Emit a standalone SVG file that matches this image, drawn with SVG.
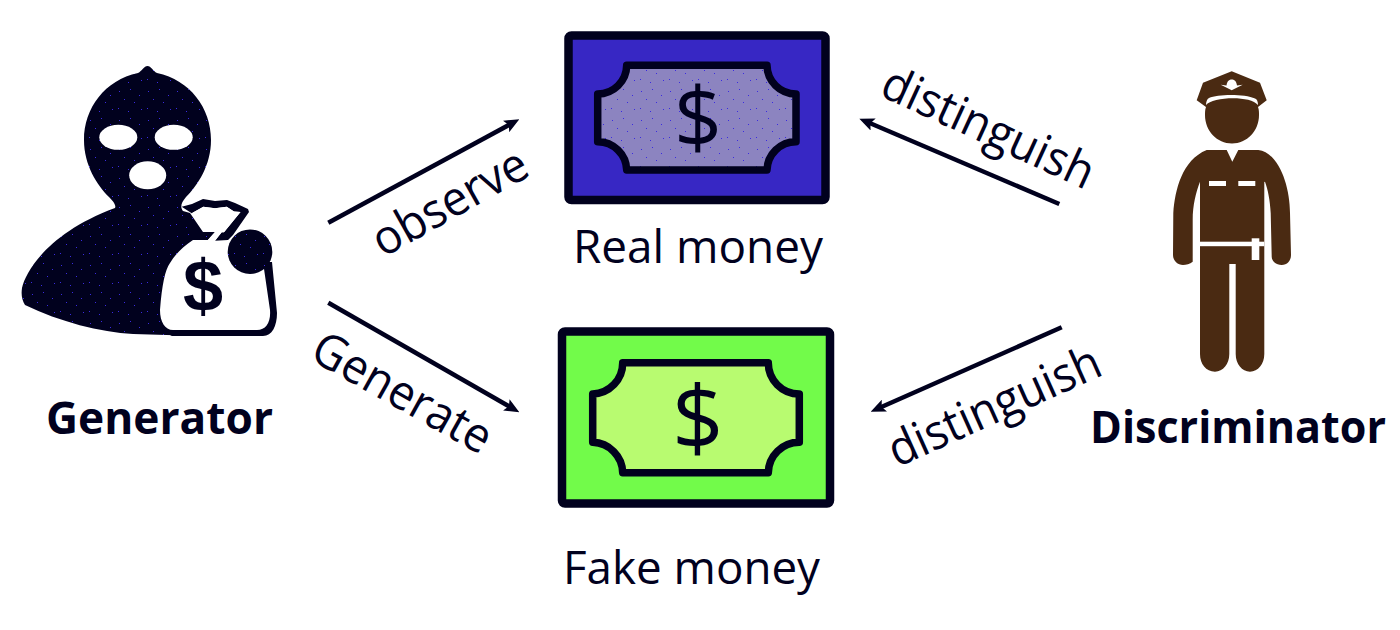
<svg xmlns="http://www.w3.org/2000/svg" width="1400" height="630" viewBox="0 0 1400 630">
<style>
.t{font-family:"Open Sans","Liberation Sans",sans-serif;font-size:46.5px;fill:#01011e}
.b{font-weight:700;font-size:44px}
.l{font-size:48px}
.dk{fill:#01011e}
.w{fill:#fff}
.br{fill:#4a2a12}
.ln{stroke:#01011e;stroke-width:4.5;fill:none;marker-end:url(#ah)}
.note{stroke:#01011e;stroke-width:7.5;stroke-linejoin:round}
.frame{stroke:#01011e;stroke-width:8.5;stroke-linejoin:round}
.dl{font-family:"Liberation Sans",sans-serif;fill:#01011e;text-anchor:middle}
.ds{font-family:"Open Sans",sans-serif;font-weight:400;fill:#01011e;text-anchor:middle}
</style>
<defs>
<marker id="ah" markerUnits="userSpaceOnUse" markerWidth="15" markerHeight="13" viewBox="0 0 15 13" refX="7" refY="6.5" orient="auto"><path d="M0 0L15 6.5L0 13L3 6.5Z" fill="#01011e"/></marker>
<pattern id="sd" width="29" height="29" patternUnits="userSpaceOnUse"><rect width="29" height="29" fill="#01011e"/><g fill="#3a2be0"><rect x="3" y="4" width="1" height="1"/><rect x="14" y="2" width="1" height="1"/><rect x="23" y="8" width="1" height="1"/><rect x="8" y="12" width="1" height="1"/><rect x="18" y="15" width="1" height="1"/><rect x="2" y="21" width="1" height="1"/><rect x="12" y="24" width="1" height="1"/><rect x="25" y="22" width="1" height="1"/></g></pattern>
<pattern id="sp" width="29" height="29" patternUnits="userSpaceOnUse"><rect width="29" height="29" fill="#8c84c0"/><g fill="#3a2be0"><rect x="3" y="4" width="1" height="1"/><rect x="14" y="2" width="1" height="1"/><rect x="23" y="8" width="1" height="1"/><rect x="8" y="12" width="1" height="1"/><rect x="18" y="15" width="1" height="1"/><rect x="2" y="21" width="1" height="1"/><rect x="12" y="24" width="1" height="1"/><rect x="25" y="22" width="1" height="1"/></g></pattern>
</defs>
<rect width="1400" height="630" fill="#fff"/>
<g id="generator">
<path fill="url(#sd)" d="M147.5 66C151 66 153 71 157 73C190 80 211 108 211 140C211 165 198 185 186 197C181 203 180 207 183 211L190 213L203 232L215 232L207 241L200 336L133 334C100 332 60 322 25 305C22 300 21 295 22 288C26 270 50 232 115 208C116 206 115 203 109 197C97 185 84 165 84 140C84 108 105 80 138 73C142 71 144 66 147.5 66Z"/>
<ellipse class="w" cx="118.3" cy="137.3" rx="19" ry="12.5"/>
<ellipse class="w" cx="173.7" cy="137.3" rx="19" ry="12.5"/>
<ellipse class="w" cx="147.7" cy="175.3" rx="18.5" ry="14"/>
<path class="dk" d="M170 336H263C272 336 277 326 277 313L272 262L262 262L200 320Z"/>
<path class="w" d="M207 240L228 240L263 262L270 310C271 322 266 330 257 330H173C165 330 160 322 160 310C162 285 165 270 170 263C176 253 184 246 193 240Z"/>
<path class="dk" d="M181.700 206.700L192 204L203 199L215 201L227 200L235 203L248 209L249 212L233 235L228 240L215 240.700L221.700 232.300L224 232.300L240.500 212L234 211.500L226.700 206.700L215 208.300L203.300 206.700L191.700 213.300Z"/>
<path class="w" d="M191.700 213.300L203.300 206.700L215 208.300L226.700 206.700L234 211.500L240.500 212L224 232.300L221.700 232.300L215 240.700L207 241L215 232L203 231Z"/>
<circle cx="250" cy="251.700" r="22.300" fill="url(#sd)"/>
<text class="dl" x="203" y="311" font-size="72" font-weight="700">$</text>
<text class="t b" x="46" y="434" textLength="227" lengthAdjust="spacingAndGlyphs">Generator</text>
</g>
<g id="real-money">
<rect class="frame" x="568.500" y="35.500" width="257" height="164.500" rx="3" fill="#3727c4"/>
<path class="note" fill="url(#sp)" d="M626.700 65.300H767A29 29 0 0 0 796 94V141.700A29 29 0 0 0 767 170H626.700A29 29 0 0 0 597.700 141.700V94A29 29 0 0 0 626.700 65.300Z"/>
<text class="ds" x="698" y="148" font-size="84">$</text>
<text class="t" x="573" y="263" textLength="250" lengthAdjust="spacingAndGlyphs">Real money</text>
</g>
<g id="fake-money">
<rect class="frame" x="562" y="331.500" width="268" height="172" rx="3" fill="#72fb4a"/>
<path class="note" fill="#b8fb70" d="M622.700 362.700H768.300A31 31 0 0 0 799.300 394V442.300A31 31 0 0 0 768.300 472.700H622.700A31 31 0 0 0 592.700 442.300V394A31 31 0 0 0 622.700 362.700Z"/>
<text class="ds" x="697.700" y="449.500" font-size="90">$</text>
<text class="t" x="563" y="584" textLength="257" lengthAdjust="spacingAndGlyphs">Fake money</text>
</g>
<g id="discriminator">
<path class="br" d="M1231.700 71.300L1260 82.700L1266.700 100.300L1258 107C1259 110 1259 112 1259 115C1259 131 1247 143.500 1232 143.500C1217 143.500 1205 131 1205 115C1205 112 1205 110 1206 107L1196.700 100.300L1203 82.700Z"/>
<path class="w" d="M1206 105C1212 97 1250 95 1258 105C1258 102 1257 99 1255 98.500C1245 94 1218 94 1209 98C1207 99 1206 102 1206 105Z"/>
<path class="w" d="M1220.700 84.700L1226.500 85.500C1227 81 1229.500 79.500 1231.700 79.500C1234 79.500 1236.500 81 1237 85.500L1242.700 84.700L1231.700 90.300Z"/>
<path class="br" d="M1206.700 150H1226.700L1232.300 161.700L1238.300 150H1258.300C1278 152 1290 185 1290 213L1291 255C1291 261 1287 265 1281.700 265C1276 265 1271.700 261 1271.700 256.700L1270.700 213C1270 200 1268 190 1265 181.700L1264.300 182V354C1264.300 364 1258 371.700 1250 371.700C1242 371.700 1235.700 364 1235.700 354V264H1229.300V354C1229.300 364 1223 371.700 1215 371.700C1206 371.700 1200 364 1200 354V181.700C1196 192 1192.700 205 1192.700 220V261.700C1190 264 1186 265 1183 265C1178 265 1173 261 1173 255L1173.300 213C1175 190 1182 160 1206.700 150Z"/>
<rect class="w" x="1200" y="241.700" width="64.300" height="4.500"/>
<rect class="w" x="1251.700" y="238.300" width="7.600" height="21.700"/>
<rect class="w" x="1209" y="181" width="17" height="5"/>
<rect class="w" x="1238.300" y="181" width="17" height="5"/>
<text class="t b" x="1090" y="443" textLength="296" lengthAdjust="spacingAndGlyphs">Discriminator</text>
</g>
<g id="connectors">
<line class="ln" x1="328.300" y1="222.700" x2="512.300" y2="123.100"/>
<line class="ln" x1="1059.300" y1="204" x2="866.700" y2="121.800"/>
<line class="ln" x1="1061.700" y1="327.300" x2="878" y2="408.500"/>
<line class="ln" x1="328.300" y1="302.700" x2="512.400" y2="408.300"/>
<text class="t l" transform="translate(383 258) rotate(-29.200)" textLength="171" lengthAdjust="spacingAndGlyphs">observe</text>
<text class="t l" transform="translate(308 358.600) rotate(29.200)" textLength="198" lengthAdjust="spacingAndGlyphs">Generate</text>
<text class="t l" transform="translate(878 95) rotate(24.600)" textLength="228" lengthAdjust="spacingAndGlyphs">distinguish</text>
<text class="t l" transform="translate(897 467.700) rotate(-24.200)" textLength="228" lengthAdjust="spacingAndGlyphs">distinguish</text>
</g>
</svg>
